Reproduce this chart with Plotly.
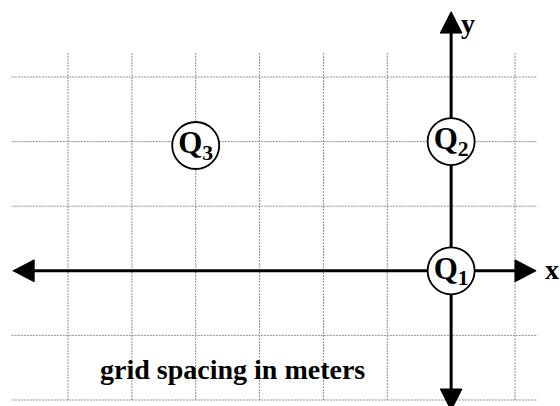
import plotly.graph_objects as go

# ---- data ----
charge_names = ["Q<sub>1</sub>", "Q<sub>2</sub>", "Q<sub>3</sub>"]
charge_x = [0, 0, -4]
charge_y = [0, 2, 1.94]

grid_x = [-6, -5, -4, -3, -2, -1, 0, 1]
grid_y = [3, 2, 1, 0, -1, -2]

grid_x_extent = [-6.88, 1.35]   # horizontal grid lines span
grid_y_extent = [-2.0, 3.39]    # vertical grid lines span

x_axis_ends = [-6.86, 1.33]
y_axis_ends = [-2.16, 4.01]

caption = "grid spacing in meters"

# ---- style ----
FONT = "Times New Roman, Liberation Serif, serif"
HEAD_L = 0.33
HEAD_W = 0.17
GRID_COLOR = "#8f8f8f"

fig = go.Figure()

# grid lines
for gx in grid_x:
    fig.add_trace(go.Scatter(x=[gx, gx], y=grid_y_extent, mode="lines",
                             line=dict(color=GRID_COLOR, width=1, dash="2px,1px"),
                             hoverinfo="skip", showlegend=False))
for gy in grid_y:
    fig.add_trace(go.Scatter(x=grid_x_extent, y=[gy, gy], mode="lines",
                             line=dict(color=GRID_COLOR, width=1, dash="2px,1px"),
                             hoverinfo="skip", showlegend=False))

# axes lines (stop at arrow bases)
fig.add_trace(go.Scatter(x=[x_axis_ends[0] + HEAD_L, x_axis_ends[1] - HEAD_L], y=[0, 0],
                         mode="lines", line=dict(color="black", width=3),
                         hoverinfo="skip", showlegend=False))
fig.add_trace(go.Scatter(x=[0, 0], y=[y_axis_ends[0] + HEAD_L, y_axis_ends[1] - HEAD_L],
                         mode="lines", line=dict(color="black", width=3),
                         hoverinfo="skip", showlegend=False))

# arrowheads
def head(xs, ys):
    fig.add_trace(go.Scatter(x=xs, y=ys, mode="lines", fill="toself",
                             fillcolor="black", line=dict(color="black", width=1),
                             hoverinfo="skip", showlegend=False))

xl, xr = x_axis_ends
yb, yt = y_axis_ends
head([xl, xl + HEAD_L, xl + HEAD_L, xl], [0, HEAD_W, -HEAD_W, 0])
head([xr, xr - HEAD_L, xr - HEAD_L, xr], [0, HEAD_W, -HEAD_W, 0])
head([0, HEAD_W, -HEAD_W, 0], [yt, yt - HEAD_L, yt - HEAD_L, yt])
head([0, HEAD_W, -HEAD_W, 0], [yb, yb + HEAD_L, yb + HEAD_L, yb])

# charges
fig.add_trace(go.Scatter(x=charge_x, y=charge_y, mode="markers+text",
                         marker=dict(size=47, color="white",
                                     line=dict(color="black", width=1.8)),
                         text=charge_names, texttemplate="<b>%{text}</b>",
                         textposition="middle center",
                         textfont=dict(family=FONT, size=31, color="black"),
                         hoverinfo="skip", showlegend=False))

# axis labels & caption
fig.add_annotation(x=xr, y=0, text="<b>x</b>", showarrow=False, xanchor="left",
                   xshift=7, yshift=1, font=dict(family=FONT, size=28, color="black"))
fig.add_annotation(x=0, y=yt, text="<b>y</b>", showarrow=False, xanchor="left",
                   yanchor="top", xshift=8, yshift=6,
                   font=dict(family=FONT, size=28, color="black"))
fig.add_annotation(x=-3.42, y=-1.53, text="<b>" + caption + "</b>", showarrow=False,
                   font=dict(family=FONT, size=28, color="black"))

fig.update_layout(
    width=560, height=406,
    margin=dict(l=0, r=0, t=0, b=0),
    paper_bgcolor="white", plot_bgcolor="white",
    xaxis=dict(range=[-7.065, 1.705], visible=False, fixedrange=True),
    yaxis=dict(range=[-2.093, 4.192], visible=False, fixedrange=True),
)

fig.write_html(
    "out.html",
    config={"displayModeBar": False, "staticPlot": True},
    post_script="document.body.style.margin='0';document.body.style.overflow='hidden';",
)
